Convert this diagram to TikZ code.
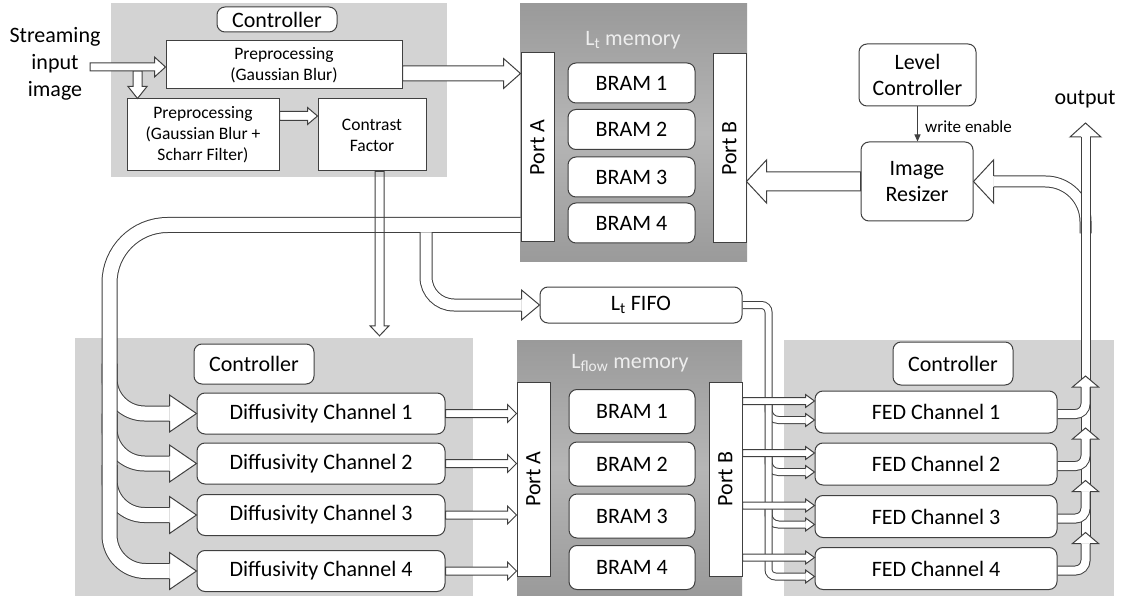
\documentclass[tikz,border=0pt]{standalone}
\usepackage{fontspec}
\setmainfont{Carlito}
\usetikzlibrary{calc,arrows.meta}

\definecolor{ctrlgray}{RGB}{211,211,211}
\definecolor{memtop}{RGB}{154,154,154}
\definecolor{memmid}{RGB}{182,182,182}
\definecolor{edge}{RGB}{64,64,64}
\definecolor{memtext}{RGB}{238,238,238}

\pgfdeclarelayer{bg}
\pgfdeclarelayer{pipes}
\pgfsetlayers{bg,pipes,main}

% direction and length of a straight segment, kept for the shapes below
\newcommand\segset[2]{%
  \path let \p1=(#1), \p2=(#2) in \pgfextra{%
    \pgfmathsetmacro\segang{atan2(\y2-\y1,\x2-\x1)}%
    \pgfmathsetmacro\seglen{veclen(\x2-\x1,\y2-\y1)}%
    \xdef\segang{\segang}\xdef\seglen{\seglen}%
    \xdef\segx{\x1}\xdef\segy{\y1}};}

% hollow block arrow: [opts]{from}{to}{half shaft}{half head}{head length}
\newcommand\blockarrow[6][]{%
  \segset{#2}{#3}%
  \draw[arrowline,#1,shift={(\segx,\segy)},rotate=\segang]
    (0,#4) -- (\seglen-#6,#4) -- (\seglen-#6,#5) -- (\seglen,0)
    -- (\seglen-#6,-#5) -- (\seglen-#6,-#4) -- (0,-#4) -- cycle;}

% open head closing a pipe: {base}{tip}{half pipe}{half head}
\newcommand\pipehead[4]{%
  \segset{#1}{#2}%
  \fill[white,shift={(\segx,\segy)},rotate=\segang] (0,#4) -- (\seglen,0) -- (0,-#4) -- cycle;
  \draw[arrowline,fill=none,shift={(\segx,\segy)},rotate=\segang]
    (0,#3) -- (0,#4) -- (\seglen,0) -- (0,-#4) -- (0,-#3);}

\tikzset{
  lbl/.style={font=\fontsize{22}{26}\selectfont, text=black, inner sep=0pt, align=center},
  sm/.style={font=\fontsize{17.5}{21}\selectfont},
  box/.style={lbl, draw=edge, line width=1pt, fill=white},
  rbox/.style={box, rounded corners=8pt},
  region/.style={fill=ctrlgray, draw=none, inner sep=0pt},
  memory/.style={draw=none, inner sep=0pt, top color=memtop, bottom color=memtop, middle color=memmid},
  memlbl/.style={lbl, text=memtext},
  pipe/.style={draw=edge, line width=1pt, double=white, double distance=#1},
  arrowline/.style={draw=edge, line width=1pt, fill=white, line join=miter},
}

\begin{document}
\begin{tikzpicture}[x=1pt,y=-1pt]
\useasboundingbox (0,0) rectangle (1122,596);

% ---------- backgrounds ----------
\begin{pgfonlayer}{bg}
  \fill[white] (0,0) rectangle (1122,596);
  \node[region, minimum width=336pt, minimum height=174pt] (topctl) at (279,90) {};
  \node[region, minimum width=398pt, minimum height=258pt] (dctl) at (274,467) {};
  \node[region, minimum width=330pt, minimum height=256pt] (fctl) at (949,468) {};
  \node[memory, minimum width=227pt, minimum height=258pt] (ltmem) at (633.5,133) {};
  \node[memory, minimum width=225pt, minimum height=256pt] (lfmem) at (629.5,468) {};
\end{pgfonlayer}

% ---------- input and preprocessing ----------
\node[lbl, font=\fontsize{22}{27}\selectfont] (src) at (55,64) {Streaming\\input\\image};
\node[rbox, minimum width=120pt, minimum height=25pt] (ctlA) at (277,19.5) {Controller};
\node[box, sm, minimum width=236pt, minimum height=48pt] (pre1) at (284,65) {Preprocessing\\(Gaussian Blur)};
\node[box, sm, minimum width=152pt, minimum height=72pt] (pre2) at (203,135) {Preprocessing\\(Gaussian Blur +\\Scharr Filter)};
\node[box, sm, minimum width=108pt, minimum height=72pt] (contrast) at (372,135) {Contrast\\Factor};

% ---------- L_t memory ----------
\node[memlbl] (ltlbl) at (633,40) {L\textsubscript{t} memory};
\node[box, minimum width=33pt, minimum height=189pt] (portA1) at (537.5,147.5) {\rotatebox{90}{Port A}};
\node[box, minimum width=33pt, minimum height=189pt] (portB1) at (729.5,148.5) {\rotatebox{90}{Port B}};
\foreach \i/\y in {1/83,2/129.5,3/177,4/223}
  \node[rbox, minimum width=127pt, minimum height=40pt] (tb\i) at (631.5,\y) {BRAM \i};

% ---------- level control ----------
\node[rbox, minimum width=117pt, minimum height=62pt] (lvl) at (917.5,75) {Level\\Controller};
\node[rbox, minimum width=112pt, minimum height=79pt] (resizer) at (917,181.5) {Image\\Resizer};
\node[lbl, font=\fontsize{17}{20}\selectfont, anchor=west] (we) at (925,127) {write enable};
\node[lbl] (outlbl) at (1085,99) {output};

% ---------- L_t FIFO ----------
\node[rbox, minimum width=202pt, minimum height=36pt] (fifo) at (641,305) {L\textsubscript{t} FIFO};

% ---------- diffusivity stage ----------
\node[rbox, minimum width=120pt, minimum height=40pt] (ctlB) at (254,364) {Controller};
\foreach \i/\y in {1/413.5,2/463.5,3/515,4/571}
  \node[rbox, minimum width=248pt, minimum height=41pt] (d\i) at (321,\y) {Diffusivity Channel \i};

% ---------- L_flow memory ----------
\node[memlbl] (lflbl) at (630,363) {L\textsubscript{flow} memory};
\node[box, minimum width=33pt, minimum height=194pt] (portA2) at (533.5,479) {\rotatebox{90}{Port A}};
\node[box, minimum width=33pt, minimum height=194pt] (portB2) at (725.5,479) {\rotatebox{90}{Port B}};
\foreach \i/\y in {1/411.5,2/464,3/516,4/567.5}
  \node[rbox, minimum width=126pt, minimum height=44pt] (lb\i) at (632,\y) {BRAM \i};

% ---------- FED stage ----------
\node[rbox, minimum width=120pt, minimum height=43pt] (ctlC) at (953,363.5) {Controller};
\foreach \i/\y in {1/412,2/464,3/516.5,4/568.5}
  \node[rbox, minimum width=242pt, minimum height=42pt] (f\i) at (936,\y) {FED Channel \i};

% ---------- routing points ----------
\coordinate (inS) at (90,67);
\coordinate (dnS) at (137.5,71);
\coordinate (vx) at (109.5,300);
\coordinate (loopS) at ($(portA1.south west)+(0,-17.5)$);
\coordinate (brS) at (426,232.5);
\coordinate (fx) at (768.5,300);
\coordinate (ox) at (1085.5,300);
\coordinate (outB) at (1085.5,137);
\coordinate (outT) at (1085.5,123);

% ---------- pipes ----------
\begin{pgfonlayer}{pipes}
  % L_t bus branches into diffusivity channels 1-3
  \foreach \i in {1,2,3}
    \draw[pipe=14pt, rounded corners=35pt] ($(vx |- d\i.west)+(0,-50)$) -- (vx |- d\i.west) -- ($(d\i.west)+(-27,0)$);
  % L_t bus from port A down to channel 4
  \draw[pipe=14pt] (loopS) [rounded corners=58pt] -- (vx |- loopS) [rounded corners=36pt] -- (vx |- d4.west) -- ($(d4.west)+(-27,0)$);
  % branch to the FIFO
  \draw[pipe=11pt, rounded corners=28pt] (brS) -- (brS |- fifo.west) -- ($(fifo.west)+(-18,0)$);
  % FIFO output to the FED channels
  \foreach \i in {1,2,3}
    \draw[pipe=6pt, rounded corners=10pt] ($(fx |- f\i.west)+(0,-14)$) -- ($(fx |- f\i.west)+(0,8)$) -- ($(f\i.west)+(-9,8)$);
  \draw[pipe=6pt, rounded corners=7pt] (fifo.east) -- (fx |- fifo.east) -- ($(fx |- f4.west)+(0,8)$) -- ($(f4.west)+(-9,8)$);
  % feedback to the resizer, output trunk, FED outputs
  \draw[pipe=10pt, rounded corners=40pt] ($(ox |- resizer.east)+(0,52)$) -- (ox |- resizer.east) -- ($(resizer.east)+(20,0)$);
  \draw[pipe=8pt] ($(ox |- f4.east)+(0,-30)$) -- (outB);
  \foreach \i in {1,...,4}
    \draw[pipe=8pt, rounded corners=10pt] ($(f\i.east)+(0,2)$) -- ($(ox |- f\i.east)+(0,2)$) -- ($(ox |- f\i.east)+(0,-25)$);
\end{pgfonlayer}

% ---------- pipe heads ----------
\foreach \i in {1,...,4}
  \pipehead{$(d\i.west)+(-27,0)$}{d\i.west}{7.5}{18.5};
\pipehead{$(fifo.west)+(-18,0)$}{fifo.west}{6}{15};
\foreach \i in {1,...,4}
  \pipehead{$(f\i.west)+(-9,8)$}{$(f\i.west)+(0,8)$}{3.5}{6.5};
\pipehead{$(resizer.east)+(20,0)$}{resizer.east}{5.5}{21.5};
\pipehead{outB}{outT}{4.5}{15.5};
\foreach \i in {1,...,4}
  \pipehead{$(ox |- f\i.east)+(0,-25)$}{$(ox |- f\i.east)+(0,-36)$}{4.5}{13};

% ---------- straight block arrows ----------
\blockarrow{dnS}{pre2.north -| dnS}{4.5}{9.5}{12}
\blockarrow{inS}{pre1.west |- inS}{4}{10}{11}
\coordinate (pc) at ($(pre2.north east)+(0,17.5)$);
\blockarrow{pc}{contrast.west |- pc}{4.5}{8.5}{10}
\coordinate (p1o) at ($(pre1.east)+(0,8.5)$);
\blockarrow{p1o}{portA1.west |- p1o}{7.5}{15}{17}
\coordinate (cfo) at ($(contrast.south)+(7.5,0)$);
\blockarrow[fill=none]{cfo}{$(dctl.north -| cfo)+(0,-2)$}{4.5}{9.5}{10}
\blockarrow{resizer.west}{portB1.east |- resizer.west}{9.5}{21.5}{20}
\foreach \i in {1,...,4}
  \blockarrow{d\i.east}{portA2.west |- d\i.east}{4}{9}{9};
\foreach \i in {1,...,4}
  \blockarrow{$(portB2.east |- f\i.west)+(0,-11)$}{$(f\i.west)+(0,-11)$}{3.5}{6.5}{9};

% ---------- write enable ----------
\draw[edge, line width=1pt, -{Triangle[width=6pt,length=7pt]}] (lvl.south) -- (lvl.south |- resizer.north);

\end{tikzpicture}
\end{document}
